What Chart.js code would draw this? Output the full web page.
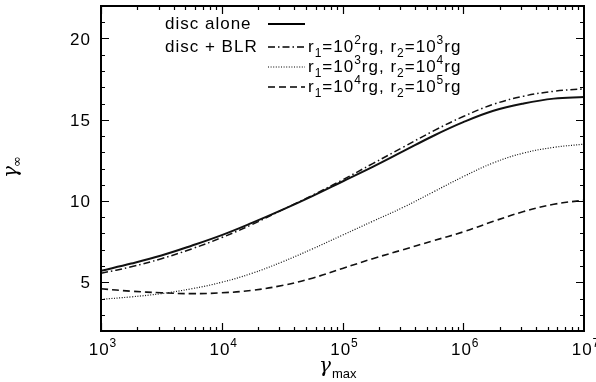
<!DOCTYPE html>
<html><head><meta charset="utf-8">
<script src="https://cdn.jsdelivr.net/npm/chart.js@4"></script>
<style>html,body{margin:0;padding:0;background:#fff}#wrap{width:596px;height:382px;position:relative}</style>
</head><body><div id="wrap"><canvas id="c" width="596" height="382"></canvas></div>
<script>
// gamma_max sample points (log-spaced)
const gammaMax = [1000, 1778, 3162, 5623, 10000, 17783, 31623, 56234, 100000, 177828, 316228, 562341, 1000000, 1778279, 3162278, 5623413, 10000000];
// disc alone (solid)
const discAlone = [5.7, 6.15, 6.65, 7.25, 7.9, 8.65, 9.45, 10.3, 11.2, 12.1, 13.05, 14.0, 14.85, 15.55, 16.0, 16.3, 16.4];
// disc + BLR, r1=1e2 rg, r2=1e3 rg (dash-dot)
const blr2to3 = [5.55, 5.95, 6.45, 7.05, 7.75, 8.55, 9.45, 10.35, 11.3, 12.3, 13.3, 14.3, 15.2, 15.95, 16.45, 16.75, 16.9];
// disc + BLR, r1=1e3 rg, r2=1e4 rg (dotted)
const blr3to4 = [3.95, 4.1, 4.3, 4.6, 5.0, 5.55, 6.25, 7.05, 7.9, 8.75, 9.6, 10.55, 11.5, 12.35, 12.95, 13.3, 13.5];
// disc + BLR, r1=1e4 rg, r2=1e5 rg (dashed)
const blr4to5 = [4.6, 4.45, 4.35, 4.3, 4.35, 4.5, 4.8, 5.25, 5.85, 6.45, 7.0, 7.55, 8.1, 8.75, 9.35, 9.8, 10.05];

const xTickValues = [1000, 10000, 100000, 1000000, 10000000];
const xTickExponents = ['3', '4', '5', '6', '7'];
const yTickValues = [5, 10, 15, 20];

const FONT = '"Liberation Sans", Arial, Helvetica, sans-serif';

function pts(arr) { return gammaMax.map((x, i) => ({ x: x, y: arr[i] })); }

function drawRich(ctx, x, y, segs, size, align) {
  const small = Math.round(size * 0.72);
  let w = 0;
  for (const [t, m] of segs) { ctx.font = (m ? small : size) + 'px ' + FONT; w += ctx.measureText(t).width; }
  let cx = align === 'center' ? x - w / 2 : align === 'right' ? x - w : x;
  for (const [t, m] of segs) {
    ctx.font = (m ? small : size) + 'px ' + FONT;
    const dy = m === 1 ? -size * 0.5 : m === -1 ? size * 0.3 : 0;
    ctx.fillText(t, cx, y + dy);
    cx += ctx.measureText(t).width;
  }
}

const styles = [
  { dash: [], width: 2 },
  { dash: [7, 3, 1.5, 3], width: 1.5 },
  { dash: [1, 1.6], width: 1.2 },
  { dash: [7, 4], width: 1.6 }
];

const frame = {
  id: 'frame',
  beforeDraw(chart) {
    const ctx = chart.ctx;
    ctx.save(); ctx.fillStyle = '#fff'; ctx.fillRect(0, 0, chart.width, chart.height); ctx.restore();
  },
  afterDraw(chart) {
    const ctx = chart.ctx;
    const a = chart.chartArea;
    const xs = chart.scales.x, ys = chart.scales.y;
    ctx.save();
    ctx.strokeStyle = '#000';
    ctx.fillStyle = '#000';
    ctx.lineWidth = 2;
    ctx.setLineDash([]);
    ctx.strokeRect(a.left, a.top, a.right - a.left, a.bottom - a.top);
    ctx.lineWidth = 1.2;
    ctx.beginPath();
    for (let e = 1000; e < 1e7; e *= 10) {
      for (let k = 1; k < 10; k++) {
        const v = e * k;
        const px = Math.round(xs.getPixelForValue(v)) + 0.5;
        const len = k === 1 ? 8 : 4;
        ctx.moveTo(px, a.bottom); ctx.lineTo(px, a.bottom - len);
        ctx.moveTo(px, a.top); ctx.lineTo(px, a.top + len);
      }
    }
    for (let v = 2; v <= 22; v++) {
      const py = Math.round(ys.getPixelForValue(v)) + 0.5;
      const len = v % 5 === 0 ? 8 : 4;
      ctx.moveTo(a.left, py); ctx.lineTo(a.left + len, py);
      ctx.moveTo(a.right, py); ctx.lineTo(a.right - len, py);
    }
    ctx.stroke();

    ctx.letterSpacing = '1px';
    ctx.textBaseline = 'alphabetic';
    ctx.textAlign = 'left';
    yTickValues.forEach(v => {
      drawRich(ctx, a.left - 10, ys.getPixelForValue(v) + 6, [[String(v), 0]], 17, 'right');
    });
    xTickValues.forEach((v, i) => {
      drawRich(ctx, xs.getPixelForValue(v) + 2, a.bottom + 24, [['10', 0], [xTickExponents[i], 1]], 17, 'center');
    });
    ctx.letterSpacing = '0px';
    ctx.font = 'italic 20px "DejaVu Serif", serif';
    ctx.fillText('γ', 319, 372);
    ctx.font = '13px ' + FONT;
    ctx.fillText('max', 332, 378);
    ctx.save();
    ctx.translate(17, 170);
    ctx.rotate(-Math.PI / 2);
    ctx.font = 'italic 20px "DejaVu Serif", serif';
    ctx.fillText('γ', -8, 0);
    ctx.font = '13px "DejaVu Sans", sans-serif';
    ctx.fillText('∞', 3, 4);
    ctx.restore();

    ctx.letterSpacing = '1px';
    drawRich(ctx, 165, 29, [['disc alone', 0]], 17, 'left');
    drawRich(ctx, 165, 52, [['disc + BLR', 0]], 17, 'left');
    const rows = [
      { y: 29, s: styles[0], txt: null },
      { y: 52, s: styles[1], txt: [['r', 0], ['1', -1], ['=10', 0], ['2', 1], ['rg, r', 0], ['2', -1], ['=10', 0], ['3', 1], ['rg', 0]] },
      { y: 72, s: styles[2], txt: [['r', 0], ['1', -1], ['=10', 0], ['3', 1], ['rg, r', 0], ['2', -1], ['=10', 0], ['4', 1], ['rg', 0]] },
      { y: 92, s: styles[3], txt: [['r', 0], ['1', -1], ['=10', 0], ['4', 1], ['rg, r', 0], ['2', -1], ['=10', 0], ['5', 1], ['rg', 0]] }
    ];
    rows.forEach(r => {
      ctx.save();
      ctx.lineWidth = r.s.width;
      ctx.setLineDash(r.s.dash);
      ctx.beginPath();
      ctx.moveTo(268, r.y - 5); ctx.lineTo(305, r.y - 5);
      ctx.stroke();
      ctx.restore();
      if (r.txt) drawRich(ctx, 308, r.y, r.txt, 17, 'left');
    });
    ctx.restore();
  }
};

const series = [discAlone, blr2to3, blr3to4, blr4to5];
const names = ['disc alone', 'disc + BLR r1=10^2rg, r2=10^3rg', 'disc + BLR r1=10^3rg, r2=10^4rg', 'disc + BLR r1=10^4rg, r2=10^5rg'];

new Chart(document.getElementById('c'), {
  type: 'line',
  data: {
    datasets: series.map((s, i) => ({
      label: names[i],
      data: pts(s),
      borderColor: '#111',
      borderWidth: styles[i].width,
      borderDash: styles[i].dash,
      pointRadius: 0,
      fill: false,
      tension: 0.4
    }))
  },
  options: {
    responsive: false,
    animation: false,
    devicePixelRatio: 1,
    layout: { padding: { left: 101, right: 12, top: 6, bottom: 51 } },
    plugins: { legend: { display: false }, tooltip: { enabled: false } },
    scales: {
      x: {
        type: 'logarithmic', min: 1000, max: 10000000,
        grid: { display: false, drawTicks: false },
        border: { display: false },
        ticks: { display: false }
      },
      y: {
        type: 'linear', min: 2, max: 22,
        grid: { display: false, drawTicks: false },
        border: { display: false },
        ticks: { display: false }
      }
    }
  },
  plugins: [frame]
});
</script>
</body></html>
